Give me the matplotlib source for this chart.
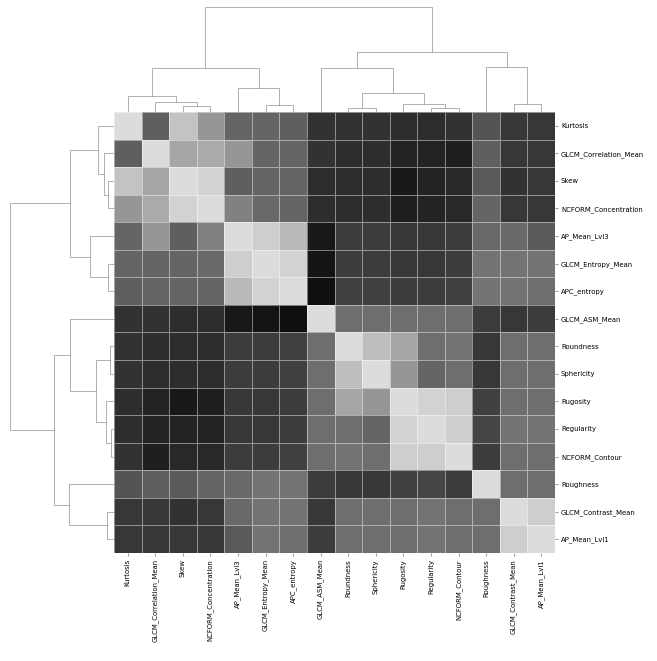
import numpy as np
import matplotlib
matplotlib.use("Agg")
import matplotlib.pyplot as plt
from matplotlib.colors import LinearSegmentedColormap

# feature names, already in clustered leaf order
features = [
    "Kurtosis", "GLCM_Correlation_Mean", "Skew", "NCFORM_Concentration",
    "AP_Mean_Lvl3", "GLCM_Entropy_Mean", "APC_entropy", "GLCM_ASM_Mean",
    "Roundness", "Sphericity", "Rugosity", "Regularity",
    "NCFORM_Contour", "Roughness", "GLCM_Contrast_Mean", "AP_Mean_Lvl1",
]

# pairwise correlations between the features (same order as above)
corr = np.array([
    [1.00, -0.19, 0.76, 0.33, -0.14, -0.14, -0.19, -0.62, -0.62, -0.62, -0.67, -0.67, -0.62, -0.29, -0.57, -0.57],
    [-0.19, 1.00, 0.48, 0.52, 0.33, -0.14, -0.14, -0.62, -0.67, -0.67, -0.76, -0.76, -0.81, -0.19, -0.57, -0.57],
    [0.76, 0.48, 1.00, 0.90, -0.19, -0.14, -0.14, -0.67, -0.67, -0.67, -0.86, -0.76, -0.71, -0.24, -0.62, -0.57],
    [0.33, 0.52, 0.90, 1.00, 0.14, -0.10, -0.14, -0.67, -0.67, -0.67, -0.81, -0.76, -0.71, -0.14, -0.57, -0.57],
    [-0.14, 0.33, -0.19, 0.14, 1.00, 0.86, 0.67, -0.86, -0.52, -0.52, -0.57, -0.57, -0.52, -0.10, -0.10, -0.24],
    [-0.14, -0.14, -0.14, -0.10, 0.86, 1.00, 0.90, -0.90, -0.52, -0.52, -0.57, -0.57, -0.52, 0.00, 0.00, 0.00],
    [-0.19, -0.14, -0.14, -0.14, 0.67, 0.90, 1.00, -0.95, -0.48, -0.48, -0.52, -0.52, -0.48, 0.00, 0.00, -0.05],
    [-0.62, -0.62, -0.67, -0.67, -0.86, -0.90, -0.95, 1.00, -0.05, -0.05, -0.05, -0.05, -0.05, -0.52, -0.57, -0.52],
    [-0.62, -0.67, -0.67, -0.67, -0.52, -0.52, -0.48, -0.05, 1.00, 0.71, 0.48, -0.05, 0.00, -0.57, -0.05, -0.05],
    [-0.62, -0.67, -0.67, -0.67, -0.52, -0.52, -0.48, -0.05, 0.71, 1.00, 0.33, -0.14, -0.05, -0.57, -0.05, -0.05],
    [-0.67, -0.76, -0.86, -0.81, -0.57, -0.57, -0.52, -0.05, 0.48, 0.33, 1.00, 0.90, 0.86, -0.48, -0.05, -0.05],
    [-0.67, -0.76, -0.76, -0.76, -0.57, -0.57, -0.52, -0.05, -0.05, -0.14, 0.90, 1.00, 0.86, -0.43, 0.00, 0.00],
    [-0.62, -0.81, -0.71, -0.71, -0.52, -0.52, -0.48, -0.05, 0.00, -0.05, 0.86, 0.86, 1.00, -0.52, -0.05, -0.05],
    [-0.29, -0.19, -0.24, -0.14, -0.10, 0.00, 0.00, -0.52, -0.57, -0.57, -0.48, -0.43, -0.52, 1.00, -0.05, -0.05],
    [-0.57, -0.57, -0.62, -0.57, -0.10, 0.00, 0.00, -0.57, -0.05, -0.05, -0.05, 0.00, -0.05, -0.05, 1.00, 0.86],
    [-0.57, -0.57, -0.57, -0.57, -0.24, 0.00, -0.05, -0.52, -0.05, -0.05, -0.05, 0.00, -0.05, -0.05, 0.86, 1.00],
])

# hierarchical merges (scipy linkage layout): child a, child b, distance
merges = [
    (11, 12, 0.035),
    (8, 9, 0.04),
    (2, 3, 0.06),
    (5, 6, 0.065),
    (14, 15, 0.075),
    (10, 16, 0.08),
    (1, 18, 0.10),
    (0, 22, 0.16),
    (17, 21, 0.185),
    (4, 19, 0.24),
    (23, 25, 0.44),
    (7, 24, 0.44),
    (13, 20, 0.45),
    (27, 28, 0.60),
    (26, 29, 1.04),
]


def dendro_segments(merges, n):
    pos = {i: i + 0.5 for i in range(n)}
    height = {i: 0.0 for i in range(n)}
    segs = []
    for k, (a, b, d) in enumerate(merges):
        node = n + k
        pa, pb = pos[a], pos[b]
        segs.append(([pa, pa, pb, pb], [height[a], d, d, height[b]]))
        pos[node] = (pa + pb) / 2
        height[node] = d
    return segs


n = len(features)
segs = dendro_segments(merges, n)
top = max(d for _, _, d in merges) * 1.05

W, H = 657, 661
fig = plt.figure(figsize=(10, 10 * H / W), dpi=65.7)


def px_axes(x0, y0, x1, y1):
    return fig.add_axes([x0 / W, 1 - y1 / H, (x1 - x0) / W, (y1 - y0) / H])


ax_heat = px_axes(114, 112, 555, 553)
ax_col = px_axes(114, 2, 555, 112)
ax_row = px_axes(5, 112, 114, 553)

cmap = LinearSegmentedColormap.from_list("greys", ["#0a0a0a", "#dcdcdc"])
ax_heat.pcolormesh(np.arange(n + 1), np.arange(n + 1), corr, cmap=cmap,
                   vmin=-1, vmax=1, edgecolors=(1, 1, 1, 0.45), linewidth=0.6)
ax_heat.set_xlim(0, n)
ax_heat.set_ylim(n, 0)
ax_heat.set_xticks(np.arange(n) + 0.5)
ax_heat.set_xticklabels(features, rotation=90, fontsize=7.6)
ax_heat.set_yticks(np.arange(n) + 0.5)
ax_heat.set_yticklabels(features, rotation=0, fontsize=7.6)
ax_heat.yaxis.tick_right()
ax_heat.tick_params(length=3, width=0.6, color=".3")
for s in ax_heat.spines.values():
    s.set_visible(False)

# column dendrogram
for xs, ys in segs:
    ax_col.plot(xs, ys, color=".45", lw=0.6)
ax_col.set_xlim(0, n)
ax_col.set_ylim(0, top)
ax_col.axis("off")

# row dendrogram, root on the left
for ys, xs in segs:
    ax_row.plot(xs, ys, color=".45", lw=0.6)
ax_row.set_ylim(n, 0)
ax_row.set_xlim(top, 0)
ax_row.axis("off")

fig.savefig("out.png", dpi=65.7)
